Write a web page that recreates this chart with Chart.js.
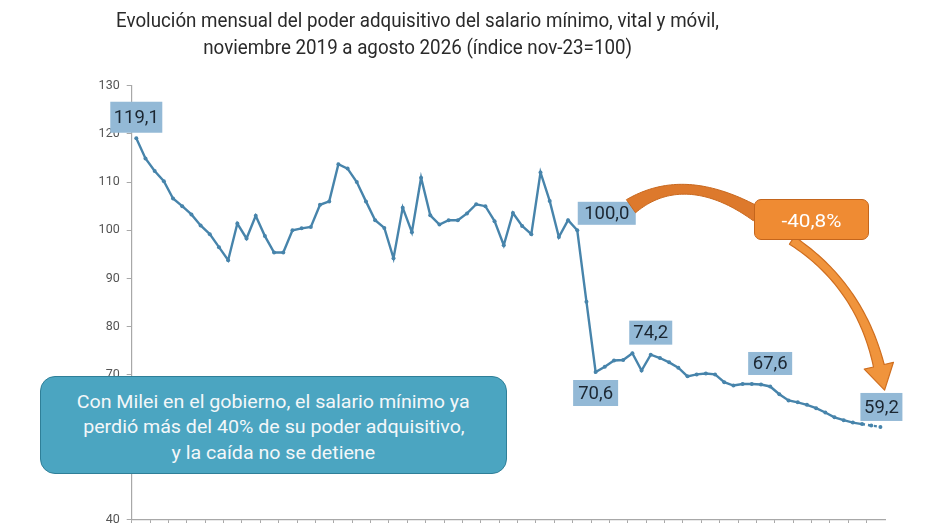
<!DOCTYPE html>
<html>
<head>
<meta charset="utf-8">
<script src="https://cdn.jsdelivr.net/npm/chart.js@4.4.1/dist/chart.umd.min.js"></script>
<style>
  html, body { margin: 0; padding: 0; background: #ffffff; }
  #wrap { position: relative; width: 931px; height: 523px; overflow: hidden; background: #fff; }
  #c { position: absolute; left: 0; top: 0; }
  .title { position: absolute; left: 0; width: 836px; text-align: center; font-family: Roboto, "Noto Sans", sans-serif; font-size: 20px; line-height: 27px; color: #2a2a2a; white-space: nowrap; }
  .line { display: inline-block; transform-origin: 50% 50%; }
  #callout { position: absolute; left: 40px; top: 376px; width: 467px; height: 98px; box-sizing: border-box; border: 1.5px solid #2f7f98; border-radius: 15px; background: #4ba5c1; color: #f3f7f9; font-family: Roboto, "Noto Sans", sans-serif; font-size: 18px; line-height: 25.5px; text-align: center; padding-top: 11.5px; white-space: nowrap; }
  #callout .row { display: block; }
  #pct { position: absolute; left: 754px; top: 199px; width: 115px; height: 41px; box-sizing: border-box; border: 1.5px solid #c4651c; border-radius: 7px; background: #ef8b33; color: #ffffff; font-family: Roboto, "Noto Sans", sans-serif; font-size: 19px; line-height: 41px; text-align: center; }
  #pct span { display: inline-block; }
</style>
</head>
<body>
<div id="wrap">
  <canvas id="c" width="931" height="534"></canvas>
  <div class="title" style="top:6.5px"><span class="line" id="t1">Evolución mensual del poder adquisitivo del salario mínimo, vital y móvil,</span></div>
  <div class="title" style="top:33.5px"><span class="line" id="t2">noviembre 2019 a agosto 2026 (índice nov-23=100)</span></div>
  <div id="callout">
    <span class="row"><span class="line" id="c1">Con Milei en el gobierno, el salario mínimo ya</span></span>
    <span class="row"><span class="line" id="c2">perdió más del 40% de su poder adquisitivo,</span></span>
    <span class="row"><span class="line" id="c3">y la caída no se detiene</span></span>
  </div>
  <div id="pct"><span class="line" id="pctText">-40,8%</span></div>
</div>
<script>
// ---- DATA ----
const categories = [
  'nov-19','dic-19',
  'ene-20','feb-20','mar-20','abr-20','may-20','jun-20','jul-20','ago-20','sep-20','oct-20','nov-20','dic-20',
  'ene-21','feb-21','mar-21','abr-21','may-21','jun-21','jul-21','ago-21','sep-21','oct-21','nov-21','dic-21',
  'ene-22','feb-22','mar-22','abr-22','may-22','jun-22','jul-22','ago-22','sep-22','oct-22','nov-22','dic-22',
  'ene-23','feb-23','mar-23','abr-23','may-23','jun-23','jul-23','ago-23','sep-23','oct-23','nov-23','dic-23',
  'ene-24','feb-24','mar-24','abr-24','may-24','jun-24','jul-24','ago-24','sep-24','oct-24','nov-24','dic-24',
  'ene-25','feb-25','mar-25','abr-25','may-25','jun-25','jul-25','ago-25','sep-25','oct-25','nov-25','dic-25',
  'ene-26','feb-26','mar-26','abr-26','may-26','jun-26','jul-26','ago-26'
];
const indexValues = [
  119.1, 114.9,
  112.3, 110.2, 106.6, 105.0, 103.3, 101.0, 99.2, 96.5, 93.8, 101.4, 98.3, 103.0,
  98.8, 95.4, 95.4, 100.0, 100.4, 100.7, 105.3, 106.0, 113.7, 112.8, 110.0, 106.0,
  102.1, 100.5, 94.2, 104.7, 99.6, 110.9, 103.1, 101.2, 102.1, 102.1, 103.5, 105.4,
  105.0, 101.9, 96.9, 103.6, 100.9, 99.2, 112.0, 106.1, 98.6, 102.1, 100.0, 85.2,
  70.6, 71.7, 73.0, 73.1, 74.5, 70.9, 74.2, 73.5, 72.6, 71.5, 69.7, 70.1,
  70.3, 70.1, 68.5, 67.8, 68.1, 68.1, 68.0, 67.6, 66.0, 64.7, 64.3, 63.8,
  63.1, 62.2, 61.2, 60.6, 60.1, 59.8, 59.5, 59.2
];
const yTicks = { min: 40, max: 130, step: 10 };
const labeledIndices = [0, 48, 50, 56, 69, 81];
const projectionStart = 79; // dashed segment from here on

// ---- annotation styles (pixel offsets of label boxes from their points) ----
const labelBoxes = [
  { dx: 0,    dy: -21,  w: 52, h: 31 },
  { dx: 29.5, dy: -17,  w: 58, h: 23 },
  { dx: 0,    dy: 21,   w: 45, h: 26 },
  { dx: 0,    dy: -22,  w: 43, h: 24 },
  { dx: 0,    dy: -23,  w: 44, h: 23 },
  { dx: 1,    dy: -20,  w: 42, h: 28 }
];
// arrow path anchors in data space [category index, value]
const arrowUpper = [[53.85, 105.0], [59.7, 112.8], [67.6, 103.3]];
const arrowLower = [[71.37, 97.9], [78.76, 88.6], [80.83, 71.9]];

const fmt = v => v.toFixed(1).replace('.', ',');

function bandPath(ctx, pts, w0, wc, w1, head) {
  const N = 48;
  const L = [], R = [];
  const [p0, c, p2] = pts;
  let lastDir = null, lastPt = null;
  for (let i = 0; i <= N; i++) {
    const t = i / N, u = 1 - t;
    const x = u*u*p0[0] + 2*u*t*c[0] + t*t*p2[0];
    const y = u*u*p0[1] + 2*u*t*c[1] + t*t*p2[1];
    let dx = 2*u*(c[0]-p0[0]) + 2*t*(p2[0]-c[0]);
    let dy = 2*u*(c[1]-p0[1]) + 2*t*(p2[1]-c[1]);
    const len = Math.hypot(dx, dy); dx /= len; dy /= len;
    const w = u*u*w0 + 2*u*t*wc + t*t*w1;
    const nx = -dy, ny = dx;
    L.push([x + nx*w/2, y + ny*w/2]);
    R.push([x - nx*w/2, y - ny*w/2]);
    lastDir = [dx, dy]; lastPt = [x, y];
  }
  ctx.beginPath();
  ctx.moveTo(L[0][0], L[0][1]);
  for (let i = 1; i < L.length; i++) ctx.lineTo(L[i][0], L[i][1]);
  if (head) {
    const nx = -lastDir[1], ny = lastDir[0];
    ctx.lineTo(lastPt[0] + nx*head.half, lastPt[1] + ny*head.half);
    ctx.lineTo(lastPt[0] + lastDir[0]*head.len, lastPt[1] + lastDir[1]*head.len);
    ctx.lineTo(lastPt[0] - nx*head.half, lastPt[1] - ny*head.half);
  }
  for (let i = R.length - 1; i >= 0; i--) ctx.lineTo(R[i][0], R[i][1]);
  ctx.closePath();
}

const annotationsPlugin = {
  id: 'annotations',
  afterDatasetsDraw(chart) {
    const ctx = chart.ctx;
    const xs = chart.scales.x, ys = chart.scales.y;
    const meta = chart.getDatasetMeta(0);
    ctx.save();
    // value labels
    ctx.font = '18.5px Roboto, "Noto Sans", sans-serif';
    ctx.textAlign = 'center';
    ctx.textBaseline = 'middle';
    labeledIndices.forEach((idx, k) => {
      const pt = meta.data[idx];
      const b = labelBoxes[k];
      const cx = pt.x + b.dx, cy = pt.y + b.dy;
      ctx.fillStyle = '#93b9d6';
      ctx.fillRect(cx - b.w/2, cy - b.h/2, b.w, b.h);
      ctx.fillStyle = '#1b2631';
      ctx.fillText(fmt(indexValues[idx]), cx, cy + 1);
    });
    // arrows
    const toPx = a => [xs.getPixelForValue(a[0]), ys.getPixelForValue(a[1])];
    ctx.lineJoin = 'round';
    bandPath(ctx, arrowUpper.map(toPx), 16, 4, 15, null);
    ctx.fillStyle = '#dd792c';
    ctx.fill();
    ctx.strokeStyle = '#c8681f';
    ctx.lineWidth = 1;
    ctx.stroke();
    bandPath(ctx, arrowLower.map(toPx), 9, 7, 11, { half: 15, len: 25 });
    ctx.fillStyle = '#f0943c';
    ctx.fill();
    ctx.strokeStyle = '#cf6e1f';
    ctx.lineWidth = 1.2;
    ctx.stroke();
    ctx.restore();
  }
};

const axisColor = '#a8a8a8';
const lineColor = '#4784ab';

new Chart(document.getElementById('c'), {
  type: 'line',
  data: {
    labels: categories,
    datasets: [{
      data: indexValues,
      borderColor: lineColor,
      backgroundColor: lineColor,
      borderWidth: 2.4,
      pointRadius: 2,
      pointBorderWidth: 0,
      pointBackgroundColor: lineColor,
      tension: 0,
      segment: {
        borderDash: c => c.p0DataIndex >= projectionStart ? [3, 3] : undefined
      }
    }]
  },
  options: {
    responsive: false,
    animation: false,
    devicePixelRatio: 1,
    layout: { padding: { top: 85.7, right: 46, bottom: 0, left: 0 } },
    plugins: { legend: { display: false }, tooltip: { enabled: false }, title: { display: false } },
    scales: {
      x: {
        type: 'category',
        offset: true,
        grid: {
          offset: true,
          drawOnChartArea: false,
          drawTicks: true,
          tickLength: 5,
          lineWidth: 1,
          color: c => (c.index % 2 === 0) ? axisColor : 'rgba(0,0,0,0)'
        },
        border: { display: true, color: axisColor, width: 1.2 },
        ticks: { display: false },
        afterFit: s => { s.height = 4.4; }
      },
      y: {
        min: yTicks.min,
        max: yTicks.max,
        ticks: { stepSize: yTicks.step, color: '#555555', font: { family: 'Roboto', size: 12.5 }, padding: 7 },
        grid: { drawOnChartArea: false, tickLength: 5, color: axisColor },
        border: { display: true, color: axisColor, width: 1.2 },
        afterFit: s => { s.width = 131.7; }
      }
    }
  },
  plugins: [annotationsPlugin]
});

function natWidth(id) {
  const el = document.getElementById(id);
  el.style.transform = 'none';
  return el.getBoundingClientRect().width;
}
function setScale(id, s) {
  document.getElementById(id).style.transform = 'scaleX(' + s + ')';
}
function fitAll() {
  const w1 = natWidth('t1'); natWidth('t2');
  const s = 603 / w1;
  setScale('t1', s); setScale('t2', s);
  const wc = natWidth('c1'); natWidth('c2'); natWidth('c3');
  const sc = 393 / wc;
  ['c1','c2','c3'].forEach(id => setScale(id, sc));
  const wp = natWidth('pctText');
  setScale('pctText', 60 / wp);
}
fitAll();
if (document.fonts && document.fonts.ready) document.fonts.ready.then(fitAll);
</script>
</body>
</html>
